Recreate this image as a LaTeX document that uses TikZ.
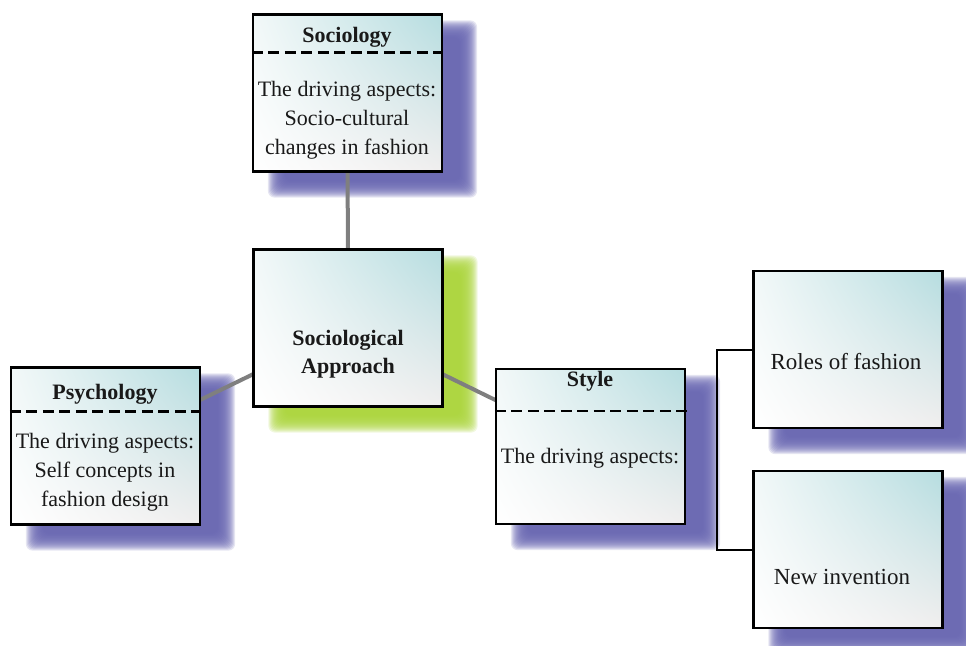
\documentclass[tikz,border=0pt]{standalone}
\usepackage{fontspec}
\setmainfont{Liberation Serif}
\usetikzlibrary{calc,shadings}
\definecolor{shpurple}{HTML}{6664B0}
\definecolor{shgreen}{HTML}{AAD43A}
\definecolor{tealA}{HTML}{B6DDE0}
\definecolor{tealB}{HTML}{F2F8F8}
\definecolor{greyB}{HTML}{F0EEEE}
\definecolor{conn}{HTML}{7F7F7F}
\pgfdeclarelayer{shadowlayer}
\pgfdeclarelayer{linelayer}
\pgfsetlayers{shadowlayer,linelayer,main}
\tikzset{
  fbox/.style={rectangle, draw=black, line width=2.4pt, inner sep=0pt,
    minimum width=189pt, minimum height=157pt,
    upper left=tealB, upper right=tealA, lower left=white, lower right=greyB},
  ttl/.style={font=\fontsize{22}{28}\selectfont\bfseries, text=black!90, align=center},
  bdy/.style={font=\fontsize{22}{29}\selectfont, text=black!90, align=center},
  lbl/.style={font=\fontsize{23}{29}\selectfont, text=black!90, align=center},
  sep/.style={draw=black, line width=2.6pt, dash pattern=on 11pt off 5.5pt},
  conline/.style={draw=conn, line width=4pt},
  brk/.style={draw=black, line width=2pt},
}
\begin{document}
\begin{tikzpicture}[x=1pt,y=-1pt]
\useasboundingbox (0,0) rectangle (966,645);
\clip (0,0) rectangle (966,645);

% boxes
\node[fbox] (soc) at (347.5,93) {};
\node[fbox] (ctr) at (348,328) {};
\node[fbox] (psy) at (105.5,446) {};
\node[fbox, minimum height=155pt] (sty) at (590.5,446.5) {};
\node[fbox] (rol) at (848,349.5) {};
\node[fbox] (nev) at (848,549.5) {};

% shadows
\begin{pgfonlayer}{shadowlayer}
\foreach \n/\c in {soc/shpurple, ctr/shgreen, psy/shpurple, sty/shpurple, rol/shpurple, nev/shpurple}{
  \foreach \i in {0,...,17}{
    \fill[\c, opacity=0.16, rounded corners=7pt]
      ($(\n.north west)+(25-9+\i,16-9+\i)$) rectangle
      ($(\n.south east)+(25+9-\i,16+9-\i)$);
  }
}
\end{pgfonlayer}

% connectors
\begin{pgfonlayer}{linelayer}
\draw[conline] (soc.center) -- (ctr.center);
\draw[conline] (psy.center) -- (ctr.center);
\draw[conline] (ctr.center) -- (sty.center);
\end{pgfonlayer}
\draw[brk] (rol.west) -- ++(-35,0) |- (nev.west);

% separators
\draw[sep] ($(soc.north west)+(0,39)$) -- ($(soc.north east)+(0,39)$);
\draw[sep] ($(psy.north west)+(0,45)$) -- ($(psy.north east)+(0,45)$);
\draw[sep] ($(sty.north west)+(0,43)$) -- ($(sty.north east)+(4,43)$);

% texts
\node[ttl] (soct) at (347,37) {Sociology};
\node[bdy] (socb) at (347,120) {The driving aspects:\\Socio-cultural\\changes in fashion};
\node[ttl] (ctrt) at (348,354) {Sociological\\Approach};
\node[ttl] (psyt) at (105,394) {Psychology};
\node[bdy] (psyb) at (105,472) {The driving aspects:\\Self concepts in\\fashion design};
\node[ttl] (styt) at (590,381) {Style};
\node[bdy] (styb) at (590,458) {The driving aspects:};
\node[lbl] (rolt) at (846,362) {Roles of fashion};
\node[lbl] (nevt) at (842,577) {New invention};
\end{tikzpicture}
\end{document}
